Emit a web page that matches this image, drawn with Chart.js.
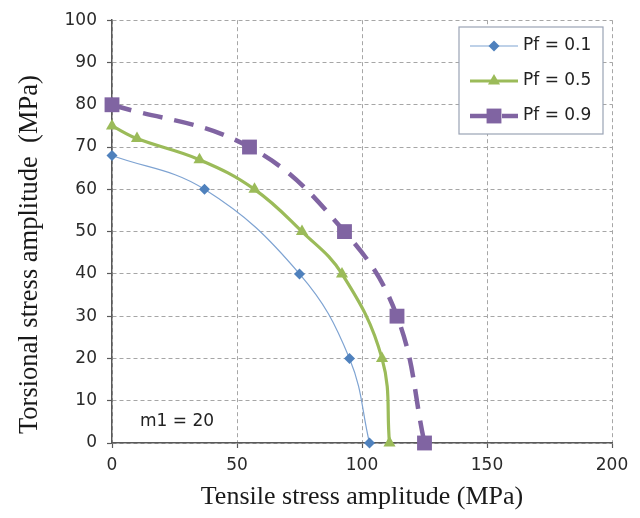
<!DOCTYPE html>
<html>
<head>
<meta charset="utf-8">
<script src="https://cdn.jsdelivr.net/npm/chart.js@4.4.1/dist/chart.umd.min.js"></script>
<style>
  html, body { margin: 0; padding: 0; background: #fff; }
  #wrap { width: 640px; height: 518px; }
</style>
</head>
<body>
<div id="wrap"><canvas id="chart" width="640" height="518"></canvas></div>
<script>
// --- Data ---
const xTicks = [0, 50, 100, 150, 200];
const yTicks = [0, 10, 20, 30, 40, 50, 60, 70, 80, 90, 100];

const seriesLabels = ['Pf = 0.1', 'Pf = 0.5', 'Pf = 0.9'];

const pf01X = [0, 37, 75, 95, 103];
const pf01Y = [68, 60, 40, 20, 0];

const pf05X = [0, 10, 35, 57, 76, 92, 108, 111];
const pf05Y = [75, 72, 67, 60, 50, 40, 20, 0];

const pf09X = [0, 55, 93, 114, 125];
const pf09Y = [80, 70, 50, 30, 0];

const noteText = 'm1 = 20';
const notePos = [26, 5];

const toPoints = (xs, ys) => xs.map((x, i) => ({ x, y: ys[i] }));

const SANS = '"DejaVu Sans", "Open Sans", sans-serif';
const SERIF = '"Liberation Serif", "DejaVu Serif", serif';
const TICK_FONT = { family: SANS, size: 17 };
const TITLE_FONT = { family: SERIF, size: 26 };

// Legend drawn inside the plot, Excel style
const insideLegend = {
  id: 'insideLegend',
  afterDatasetsDraw(chart) {
    const { ctx } = chart;
    const box = { x: 459, y: 27, w: 144, h: 107 };
    ctx.save();
    ctx.fillStyle = '#FFFFFF';
    ctx.fillRect(box.x, box.y, box.w, box.h);
    ctx.strokeStyle = '#9AA3B5';
    ctx.lineWidth = 1.2;
    ctx.strokeRect(box.x, box.y, box.w, box.h);

    chart.data.datasets.forEach((ds, i) => {
      const cy = box.y + 19 + i * 35;
      const x1 = box.x + 11, x2 = box.x + 59, cx = (x1 + x2) / 2;
      ctx.beginPath();
      ctx.setLineDash(ds.borderDash || []);
      ctx.lineWidth = ds.borderWidth;
      ctx.strokeStyle = ds.borderColor;
      ctx.moveTo(x1, cy);
      ctx.lineTo(x2, cy);
      ctx.stroke();
      ctx.setLineDash([]);
      ctx.fillStyle = ds.pointBackgroundColor;
      ctx.strokeStyle = ds.pointBorderColor;
      Chart.helpers.drawPoint(ctx, {
        pointStyle: ds.pointStyle,
        radius: ds.pointRadius,
        rotation: 0,
        borderWidth: 0,
      }, cx, cy);

      ctx.fillStyle = '#222';
      ctx.font = `17px ${SANS}`;
      ctx.textBaseline = 'middle';
      ctx.textAlign = 'left';
      ctx.fillText(ds.label, x2 + 5, cy);
    });
    ctx.restore();
  },
};

// "m1 = 20" note placed in data coordinates
const noteLabel = {
  id: 'noteLabel',
  afterDatasetsDraw(chart) {
    const { ctx, scales } = chart;
    ctx.save();
    ctx.fillStyle = '#222';
    ctx.font = `17px ${SANS}`;
    ctx.textAlign = 'center';
    ctx.textBaseline = 'middle';
    ctx.fillText(noteText, scales.x.getPixelForValue(notePos[0]), scales.y.getPixelForValue(notePos[1]));
    ctx.restore();
  },
};

// y title drawn by hand: in the reference it sits lower than the plot's middle
const yTitle = {
  id: 'yTitle',
  afterDraw(chart) {
    const { ctx, chartArea } = chart;
    ctx.save();
    ctx.translate(30, (chartArea.top + chartArea.bottom) / 2 + 23);
    ctx.rotate(-Math.PI / 2);
    ctx.fillStyle = '#1a1a1a';
    ctx.font = `26.5px ${SERIF}`;
    ctx.textAlign = 'center';
    ctx.textBaseline = 'middle';
    ctx.fillText('Torsional stress amplitude  (MPa)', 0, 0);
    ctx.restore();
  },
};

const gridCommon = {
  color: '#A6A6A6',
  lineWidth: 1,
  tickLength: 5,
  tickColor: '#595959',
  tickWidth: 1.2,
};

new Chart(document.getElementById('chart'), {
  type: 'scatter',
  data: {
    datasets: [
      {
        label: seriesLabels[0],
        data: toPoints(pf01X, pf01Y),
        showLine: true,
        borderColor: '#7EA3D2',
        borderWidth: 1.2,
        pointStyle: 'rectRot',
        pointRadius: 5.5,
        pointBackgroundColor: '#4F81BD',
        pointBorderColor: '#4F81BD',
        pointBorderWidth: 0,
        tension: 0.4,
        clip: false,
      },
      {
        label: seriesLabels[1],
        data: toPoints(pf05X, pf05Y),
        showLine: true,
        borderColor: '#9BBB59',
        borderWidth: 3.2,
        pointStyle: 'triangle',
        pointRadius: 7,
        pointBackgroundColor: '#9BBB59',
        pointBorderColor: '#9BBB59',
        pointBorderWidth: 0,
        tension: 0.4,
        clip: false,
      },
      {
        label: seriesLabels[2],
        data: toPoints(pf09X, pf09Y),
        showLine: true,
        borderColor: '#8064A2',
        borderWidth: 4.5,
        borderDash: [20, 12],
        pointStyle: 'rect',
        pointRadius: 10.5,
        pointBackgroundColor: '#8064A2',
        pointBorderColor: '#8064A2',
        pointBorderWidth: 0,
        tension: 0.4,
        clip: false,
      },
    ],
  },
  options: {
    responsive: false,
    animation: false,
    layout: { padding: { top: 19, right: 28, left: 0, bottom: 0 } },
    plugins: {
      legend: { display: false },
      tooltip: { enabled: false },
    },
    scales: {
      x: {
        type: 'linear',
        min: 0,
        max: 200,
        afterBuildTicks: (axis) => { axis.ticks = xTicks.map(v => ({ value: v })); },
        afterFit: (axis) => { axis.height = 75; },
        grid: gridCommon,
        border: { display: true, color: '#595959', width: 1.5, dash: [4, 3] },
        ticks: { font: TICK_FONT, color: '#2a2a2a', padding: 7 },
        title: {
          display: true,
          text: 'Tensile stress amplitude (MPa)',
          font: TITLE_FONT,
          color: '#1a1a1a',
          padding: { top: 0, bottom: 5 },
        },
      },
      y: {
        type: 'linear',
        min: 0,
        max: 100,
        afterBuildTicks: (axis) => { axis.ticks = yTicks.map(v => ({ value: v })); },
        afterFit: (axis) => { axis.width = 112; },
        grid: gridCommon,
        border: { display: true, color: '#595959', width: 1.5, dash: [4, 3] },
        ticks: { font: TICK_FONT, color: '#2a2a2a', padding: 10 },
        title: { display: false },
      },
    },
  },
  plugins: [insideLegend, noteLabel, yTitle],
});
</script>
</body>
</html>
